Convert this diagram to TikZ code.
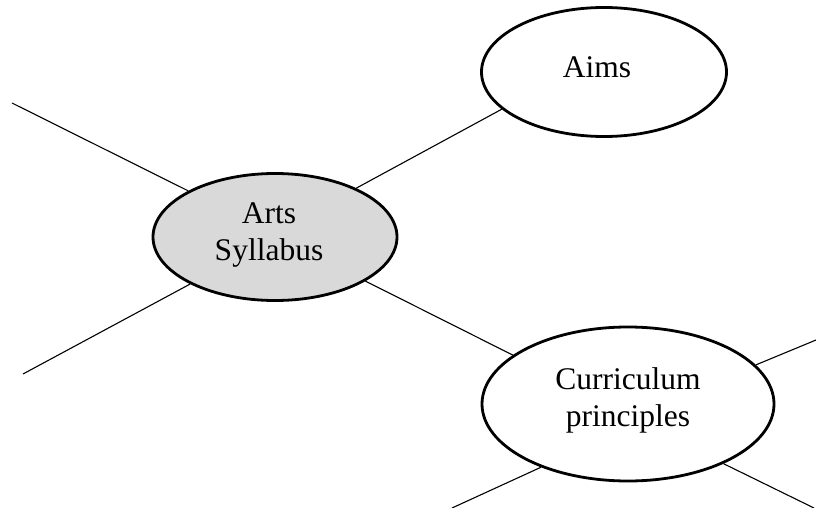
\documentclass[tikz,border=0pt]{standalone}
\usepackage{fontspec}
\setmainfont{Liberation Serif}
\usetikzlibrary{shapes.geometric}

\tikzset{
  bubble/.style={ellipse, draw, line width=2.8pt, inner sep=0pt},
  bubbletext/.style={align=center, font=\fontsize{31.5}{37}\selectfont},
  spoke/.style={line width=1.1pt}
}

\begin{document}
\begin{tikzpicture}[x=1pt,y=-1pt]

\useasboundingbox (0,0) rectangle (816,508);

\node[bubble, fill=gray!30, minimum width=244pt, minimum height=127pt,
  label={[bubbletext, xshift=-6pt, yshift=2pt]center:Arts\\Syllabus}] (arts) at (275,237) {};
\node[bubble, minimum width=245pt, minimum height=129pt,
  label={[bubbletext, xshift=-7pt, yshift=5pt]center:Aims}] (aims) at (604,72) {};
\node[bubble, minimum width=292pt, minimum height=154pt,
  label={[bubbletext, yshift=4pt]center:Curriculum\\principles}] (curric) at (628,404) {};

% loose ends
\coordinate (upleft) at (12,103);
\coordinate (lowleft) at (23,374);
\coordinate (cupright) at (816,340);
\coordinate (clowleft) at (452,508);
\coordinate (clowright) at (814,508);

\draw[spoke] (arts.31) -- (aims.200);
\draw[spoke] (arts.-26) -- (curric.157);
\draw[spoke] (upleft) -- (arts.152);
\draw[spoke] (lowleft) -- (arts.209);
\draw[spoke] (curric.17) -- (cupright);
\draw[spoke] (curric.216) -- (clowleft);
\draw[spoke] (curric.328) -- (clowright);

\end{tikzpicture}
\end{document}
